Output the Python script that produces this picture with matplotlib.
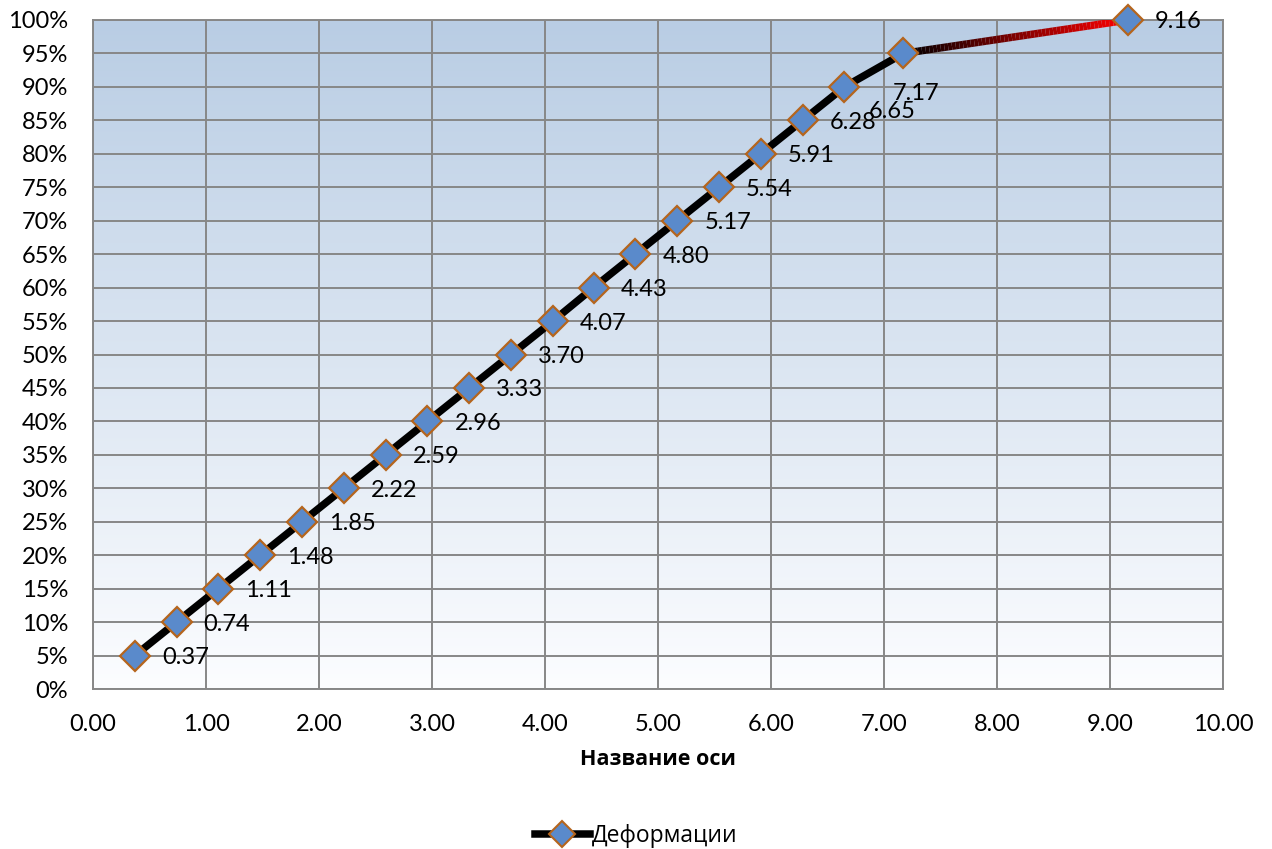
import numpy as np
import matplotlib
matplotlib.use("Agg")
import matplotlib.pyplot as plt
from matplotlib.collections import LineCollection
from matplotlib.colors import LinearSegmentedColormap
from matplotlib.lines import Line2D
from matplotlib.ticker import FuncFormatter, MultipleLocator

plt.rcParams['font.family'] = ['Lato', 'Open Sans', 'DejaVu Sans']

# Deformation values and the share of load at each step
deformation = [0.37, 0.74, 1.11, 1.48, 1.85, 2.22, 2.59, 2.96, 3.33, 3.70,
               4.07, 4.43, 4.80, 5.17, 5.54, 5.91, 6.28, 6.65, 7.17, 9.16]
share = [0.05, 0.10, 0.15, 0.20, 0.25, 0.30, 0.35, 0.40, 0.45, 0.50,
         0.55, 0.60, 0.65, 0.70, 0.75, 0.80, 0.85, 0.90, 0.95, 1.00]
series_name = "Деформации"
x_title = "Название оси"

fig = plt.figure(figsize=(12.72, 8.49), dpi=100)
ax = fig.add_axes([93 / 1272, 1 - 689 / 849, 1130 / 1272, 669 / 849])

ax.set_xlim(0, 10)
ax.set_ylim(0, 1)

# vertical gradient fill of the plot area
top = np.array([185, 205, 228]) / 255
bottom = np.array([252, 253, 255]) / 255
t = np.linspace(0, 1, 256)[:, None]
grad = top * (1 - t) + bottom * t
ax.imshow(grad[:, None, :], extent=(0, 10, 0, 1), aspect='auto',
          origin='upper', zorder=0, interpolation='bicubic')

grid_c = '#878787'
ax.xaxis.set_major_locator(MultipleLocator(1))
ax.yaxis.set_major_locator(MultipleLocator(0.05))
ax.grid(True, color=grid_c, lw=1.4, zorder=1)
for s in ax.spines.values():
    s.set_color(grid_c)
    s.set_linewidth(1.4)
ax.tick_params(length=0, labelsize=17, colors='black')
ax.tick_params(axis='x', pad=18)
ax.tick_params(axis='y', pad=18)
ax.xaxis.set_major_formatter(FuncFormatter(lambda v, p: f"{v:.2f}"))
ax.yaxis.set_major_formatter(FuncFormatter(lambda v, p: f"{v * 100:.0f}%"))

lw = 5.4
# main black line
ax.plot(deformation[:-1], share[:-1], color='black', lw=lw,
        solid_capstyle='round', solid_joinstyle='round', zorder=3)

# last segment fades from black to red
n = 60
xs = np.linspace(deformation[-2], deformation[-1], n + 1)
ys = np.linspace(share[-2], share[-1], n + 1)
segs = np.stack([np.column_stack([xs[:-1], ys[:-1]]),
                 np.column_stack([xs[1:], ys[1:]])], axis=1)
cmap = LinearSegmentedColormap.from_list('br', ['#000000', '#FF0000'])
lc = LineCollection(segs, colors=cmap(np.linspace(0, 1, n)), lw=lw,
                    capstyle='butt', zorder=3)
ax.add_collection(lc)

face = '#5A8ACB'
edge = '#B5651D'
ax.plot(deformation, share, ls='none', marker='D', ms=15, mfc=face,
        mec=edge, mew=1.6, zorder=4, clip_on=False)

# value labels
offsets = {17: (24, -25), 18: (-10, -40)}
for i, (x, y) in enumerate(zip(deformation, share)):
    dx, dy = offsets.get(i, (27, -2))
    ax.annotate(f"{x:.2f}", (x, y), xytext=(dx, dy), textcoords='offset pixels',
                ha='left', va='center', fontsize=17, zorder=5,
                annotation_clip=False)

ax.set_xlabel(x_title, fontsize=15.5, fontweight='bold', family='Open Sans',
              labelpad=10)

handle = Line2D([], [], color='black', lw=lw, marker='D', ms=13,
                mfc=face, mec=edge, mew=1.5)
fig.legend([handle], [series_name], loc='center', bbox_to_anchor=(0.5, 1 - 836 / 849),
           frameon=False, prop={'family': 'Open Sans', 'size': 16.5},
           handlelength=2.4, handletextpad=0.1)

fig.savefig("out.png", dpi=100)
